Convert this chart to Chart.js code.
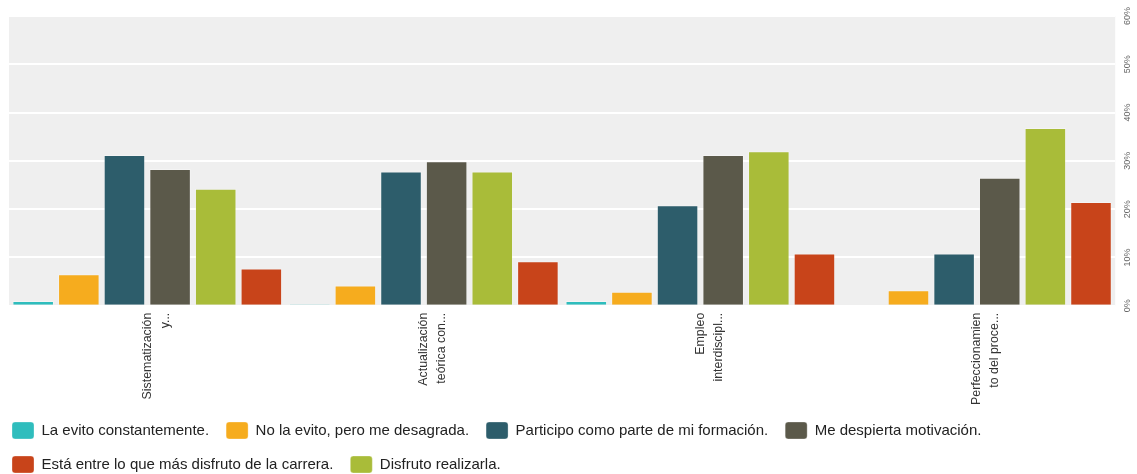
<!DOCTYPE html>
<html>
<head>
<meta charset="utf-8">
<script src="https://cdn.jsdelivr.net/npm/chart.js@4.4.1/dist/chart.umd.min.js"></script>
<style>
  html, body { margin: 0; padding: 0; background: #fff; overflow: hidden; }
  #wrap { width: 1137px; height: 474px; position: relative; }
</style>
</head>
<body>
<div id="wrap"><canvas id="chart"></canvas></div>
<script>
// Categories (truncated as in the original)
const categories = [
    ['Sistematización', 'y...'],
    ['Actualización', 'teórica con...'],
    ['Empleo', 'interdiscipl...'],
    ['Perfeccionamien', 'to del proce...']
];

// Series values in %
const evitoConstante = [1.0, 0.3, 1.0, 0];
const noEvitoDesagrada = [6.5, 4.2, 2.9, 3.2];
const participoFormacion = [31.2, 27.8, 20.8, 10.8];
const despiertaMotivacion = [28.3, 29.9, 31.2, 26.5];
const disfrutoRealizarla = [24.2, 27.8, 32.0, 36.8];
const masDisfruto = [7.7, 9.2, 10.8, 21.5];

const yTickLabels = ['0%', '10%', '20%', '30%', '40%', '50%', '60%'];

// legend shows the datasets in a different order than the bars
const legendOrder = [0, 1, 2, 3, 5, 4];

const edge = 'rgba(255,255,255,0.3)';

// grey plot background
const plotBackground = {
    id: 'plotBackground',
    beforeDraw(chart) {
        const { ctx, chartArea: a } = chart;
        ctx.save();
        ctx.fillStyle = '#efefef';
        ctx.fillRect(a.left, a.top, a.right - a.left, a.bottom - a.top);
        ctx.restore();
    }
};

// nudge legend to the left so it starts near the edge
const legendShift = {
    id: 'legendShift',
    afterLayout(chart) {
        chart.legend.left -= 14;
        chart.legend.right -= 14;
    }
};

const ctx = document.getElementById('chart').getContext('2d');
new Chart(ctx, {
    type: 'bar',
    data: {
        labels: categories,
        datasets: [
            { label: 'La evito constantemente.', data: evitoConstante, backgroundColor: '#2fbdbd' },
            { label: 'No la evito, pero me desagrada.', data: noEvitoDesagrada, backgroundColor: '#f6ac1e' },
            { label: 'Participo como parte de mi formación.', data: participoFormacion, backgroundColor: '#2d5d6b' },
            { label: 'Me despierta motivación.', data: despiertaMotivacion, backgroundColor: '#5b594a' },
            { label: 'Disfruto realizarla.', data: disfrutoRealizarla, backgroundColor: '#a9bc39' },
            { label: 'Está entre lo que más disfruto de la carrera.', data: masDisfruto, backgroundColor: '#c8441a' }
        ].map(d => Object.assign(d, { borderColor: edge, borderWidth: 1 }))
    },
    options: {
        responsive: true,
        maintainAspectRatio: false,
        animation: false,
        datasets: {
            bar: {
                categoryPercentage: 0.99,
                barPercentage: 0.91
            }
        },
        layout: {
            padding: { top: 16, right: 5, bottom: -9, left: 9 }
        },
        plugins: {
            tooltip: { enabled: false },
            legend: {
                position: 'bottom',
                align: 'start',
                labels: {
                    boxWidth: 22,
                    boxHeight: 17,
                    useBorderRadius: true,
                    borderRadius: 3,
                    padding: 17,
                    color: '#222',
                    font: { family: '"Liberation Sans", Arial, sans-serif', size: 15 },
                    sort: (a, b) => legendOrder.indexOf(a.datasetIndex) - legendOrder.indexOf(b.datasetIndex)
                }
            }
        },
        scales: {
            x: {
                grid: { display: false, drawTicks: false },
                border: { display: false },
                ticks: {
                    autoSkip: false,
                    minRotation: 90,
                    maxRotation: 90,
                    padding: 7,
                    color: '#333',
                    font: { family: '"Liberation Sans", Arial, sans-serif', size: 12.4, lineHeight: 1.45 }
                },
                afterFit(scale) {
                    scale.height -= 7;
                }
            },
            y: {
                position: 'right',
                min: 0,
                max: 60,
                grid: { color: '#ffffff', lineWidth: 2, drawTicks: false },
                border: { display: false },
                ticks: {
                    stepSize: 10,
                    minRotation: 90,
                    maxRotation: 90,
                    crossAlign: 'center',
                    padding: 3,
                    color: '#666',
                    font: { family: '"Liberation Sans", Arial, sans-serif', size: 9 },
                    callback: (v, i) => yTickLabels[i]
                }
            }
        }
    },
    plugins: [plotBackground, legendShift]
});
</script>
</body>
</html>
